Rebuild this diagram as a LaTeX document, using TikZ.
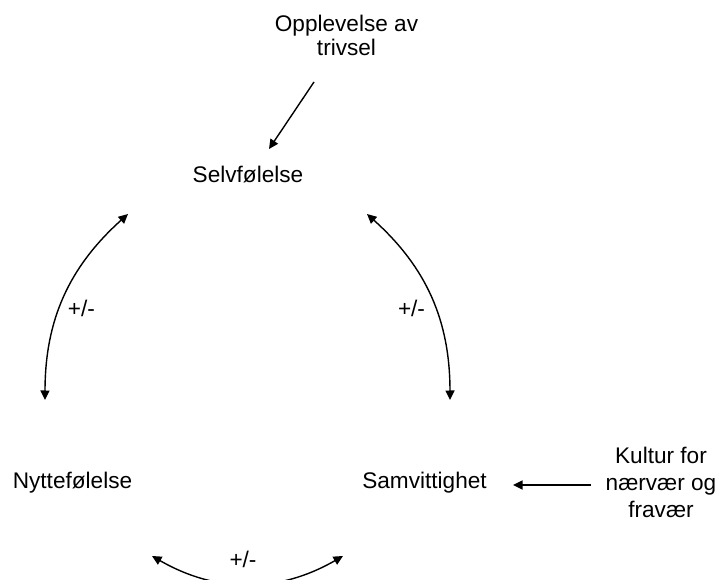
\documentclass[tikz,border=0pt]{standalone}
\usepackage{fontspec}
\setmainfont{Liberation Sans}
\usetikzlibrary{arrows.meta}
\begin{document}
\begin{tikzpicture}[x=1pt,y=1pt,
  lbl/.style={inner sep=0pt, font=\fontsize{22.6}{26}\selectfont, align=center},
  tipstyle/.style={line width=1.4pt},
  conn/.style={tipstyle, -{Triangle[length=9.5pt,width=9pt]}},
  twoway/.style={tipstyle, {Triangle[length=9.5pt,width=9pt]}-{Triangle[length=9.5pt,width=9pt]}}]
\useasboundingbox (0,0) rectangle (718,579);
% texts
\node[lbl, font=\fontsize{22.6}{24}\selectfont, anchor=base] (opp) at (346.5,523) {Opplevelse av\\trivsel};
\node[lbl, anchor=base] (selv) at (248,396) {Selvfølelse};
\node[lbl, anchor=base] (nytte) at (72.5,91) {Nyttefølelse};
\node[lbl, anchor=base] (samv) at (424.5,91) {Samvittighet};
\node[lbl, font=\fontsize{22.6}{27}\selectfont, anchor=base] (kultur) at (661,62) {Kultur for\\nærvær og\\fravær};
\node[lbl] (pmL) at (81.5,271) {+/-};
\node[lbl] (pmR) at (411.5,271) {+/-};
\node[lbl] (pmB) at (243,20) {+/-};
% connector ends
\coordinate (oppS) at (314,497);
\coordinate (selvT) at (269,430);
\coordinate (selvL) at (128,365);
\coordinate (nytteT) at (45,179);
\coordinate (selvR) at (367,365);
\coordinate (samvT) at (450,179);
\coordinate (nytteB) at (152,23);
\coordinate (samvB) at (343,23);
\coordinate (kulturW) at (591,94);
\coordinate (samvE) at (513,94);
% connectors
\draw[conn] (oppS) -- (selvT);
\draw[twoway] (nytteT) to[bend left=24] (selvL);
\draw[twoway] (samvT) to[bend right=24] (selvR);
\draw[twoway] (nytteB) to[bend right=30] (samvB);
\draw[conn] (kulturW) -- (samvE);
\end{tikzpicture}
\end{document}
